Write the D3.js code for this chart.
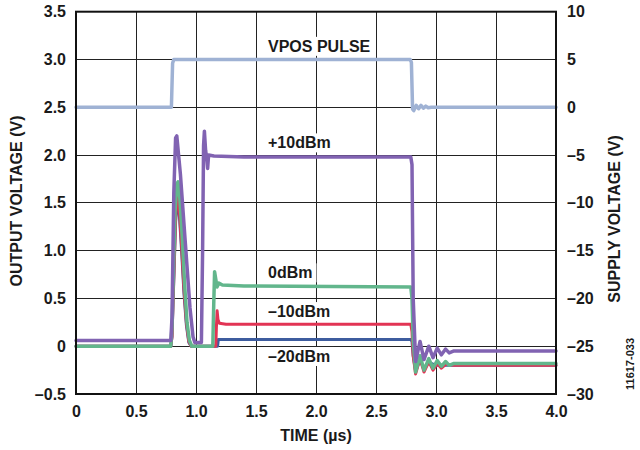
<!DOCTYPE html>
<html>
<head>
<meta charset="utf-8">
<script src="https://cdn.jsdelivr.net/npm/d3@7/dist/d3.min.js"></script>
<style>
  body { margin: 0; background: #fff; }
  text { font-family: Arial, "Liberation Sans", sans-serif; font-weight: bold; fill: #1a1a1a; }
  .grid line { stroke: #222; stroke-width: 1; shape-rendering: crispEdges; }
  .trace { fill: none; stroke-linejoin: round; stroke-linecap: round; }
</style>
</head>
<body>
<svg id="chart" width="640" height="450"></svg>
<script>
// tick values + labels
var xTicks = [0, 0.5, 1.0, 1.5, 2.0, 2.5, 3.0, 3.5, 4.0];
var xLabels = ['0', '0.5', '1.0', '1.5', '2.0', '2.5', '3.0', '3.5', '4.0'];
var leftTicks = [-0.5, 0, 0.5, 1.0, 1.5, 2.0, 2.5, 3.0, 3.5];
var leftLabels = ['\u20130.5', '0', '0.5', '1.0', '1.5', '2.0', '2.5', '3.0', '3.5'];
var rightTicks = [-30, -25, -20, -15, -10, -5, 0, 5, 10];
var rightLabels = ['\u201330', '\u201325', '\u201320', '\u201315', '\u201310', '\u20135', '0', '5', '10'];

// VPOS pulse (supply voltage, right axis)
var vposT = [0, 0.795, 0.805, 0.815, 2.785, 2.795, 2.805, 2.815, 2.835, 2.855, 2.875, 2.895, 2.915, 2.935, 2.96, 4.0];
var vposV = [0, 0, 4.6, 5, 5, 4.7, -0.2, -0.35, 0.2, -0.15, 0.2, -0.1, 0.12, -0.05, 0, 0];

// +10dBm (output voltage, left axis)
var p10T = [0, 0.79, 0.80, 0.815, 0.83, 0.84, 0.87, 0.91, 0.95, 0.975, 0.99, 1.045, 1.055, 1.063, 1.07, 1.08, 1.09, 1.097, 1.105, 1.15, 1.4,
            2.79, 2.80, 2.81, 2.83, 2.867, 2.90, 2.94, 2.975, 3.01, 3.045, 3.08, 3.11, 3.15, 4.0];
var p10V = [0.06, 0.06, 0.3, 1.6, 2.18, 2.2, 1.8, 1.1, 0.4, 0.1, 0.04, 0.04, 1.0, 2.1, 2.25, 2.05, 1.96, 1.86, 2.0, 1.99, 1.98,
            1.98, 1.9, 0.5, -0.16, 0.05, -0.14, 0.0, -0.12, -0.02, -0.09, -0.03, -0.07, -0.05, -0.05];

// 0dBm
var p0T = [0, 0.79, 0.80, 0.825, 0.84, 0.85, 0.865, 0.885, 0.905, 0.925, 0.945, 0.965, 1.14, 1.148, 1.155, 1.165, 1.175, 1.19, 1.22, 1.4,
           2.79, 2.80, 2.81, 2.83, 2.867, 2.90, 2.94, 2.975, 3.01, 3.045, 3.08, 3.11, 3.15, 4.0];
var p0V = [0.0, 0.0, 0.2, 1.4, 1.7, 1.72, 1.55, 1.15, 0.65, 0.25, 0.06, 0.0, 0.0, 0.45, 0.78, 0.7, 0.62, 0.66, 0.64, 0.63,
           0.62, 0.5, 0.05, -0.27, -0.1, -0.25, -0.13, -0.23, -0.15, -0.21, -0.16, -0.2, -0.18, -0.18];

// -10dBm
var m10T = [0, 0.79, 0.80, 0.83, 0.845, 0.86, 0.88, 0.90, 0.92, 0.94, 0.96, 1.165, 1.17, 1.176, 1.183, 1.195, 1.25,
            2.79, 2.80, 2.81, 2.83, 2.867, 2.90, 2.94, 2.975, 3.01, 3.045, 3.08, 3.15, 4.0];
var m10V = [0.0, 0.0, 0.1, 1.35, 1.58, 1.45, 1.05, 0.6, 0.25, 0.05, 0.0, 0.0, 0.2, 0.37, 0.28, 0.24, 0.23,
            0.23, 0.15, -0.1, -0.29, -0.13, -0.27, -0.16, -0.25, -0.18, -0.23, -0.19, -0.2, -0.2];

// -20dBm
var m20T = [0, 0.79, 0.80, 0.83, 0.845, 0.86, 0.88, 0.90, 0.92, 0.94, 0.96, 1.18, 1.186, 1.2, 2.79, 2.80, 2.81, 2.83, 2.867, 2.90, 2.94, 3.0, 4.0];
var m20V = [0.0, 0.0, 0.1, 1.3, 1.52, 1.4, 1.0, 0.55, 0.22, 0.04, 0.0, 0.0, 0.07, 0.07, 0.07, 0.05, -0.1, -0.26, -0.14, -0.24, -0.17, -0.2, -0.2];

// curve annotations (time, output-voltage baseline)
var labels = [
  { text: 'VPOS PULSE', t: 1.6, v: 3.08 },
  { text: '+10dBm', t: 1.6, v: 2.07 },
  { text: '0dBm', t: 1.6, v: 0.71 },
  { text: '\u201310dBm', t: 1.6, v: 0.305 },
  { text: '\u201320dBm', t: 1.6, v: -0.165 }
];

var svg = d3.select('#chart');
var mLeft = 76, mRight = 556, mTop = 11.7, mBottom = 394;

var x = d3.scaleLinear().domain([0, 4]).range([mLeft, mRight]);
var yL = d3.scaleLinear().domain([-0.5, 3.5]).range([mBottom, mTop]);
var yR = d3.scaleLinear().domain([-30, 10]).range([mBottom, mTop]);

// grid
var grid = svg.append('g').attr('class', 'grid');
grid.selectAll('line.v')
  .data(xTicks.slice(1, -1))
  .enter().append('line')
  .attr('x1', d => x(d)).attr('x2', d => x(d))
  .attr('y1', mTop).attr('y2', mBottom);
grid.selectAll('line.h')
  .data(leftTicks.slice(1, -1))
  .enter().append('line')
  .attr('x1', mLeft).attr('x2', mRight)
  .attr('y1', d => yL(d)).attr('y2', d => yL(d));

// axes
var xAxis = d3.axisBottom(x).tickValues(xTicks).tickSize(0).tickPadding(12)
  .tickFormat((d, i) => xLabels[i]);
var lAxis = d3.axisLeft(yL).tickValues(leftTicks).tickSize(0).tickPadding(10)
  .tickFormat((d, i) => leftLabels[i]);
var rAxis = d3.axisRight(yR).tickValues(rightTicks).tickSize(0).tickPadding(11)
  .tickFormat((d, i) => rightLabels[i]);

svg.append('g').attr('transform', 'translate(0,' + mBottom + ')').call(xAxis);
svg.append('g').attr('transform', 'translate(' + mLeft + ',0)').call(lAxis);
svg.append('g').attr('transform', 'translate(' + mRight + ',0)').call(rAxis);
svg.selectAll('.domain').remove();
svg.selectAll('.tick text')
  .attr('font-size', 16)
  .attr('font-family', 'Arial, "Liberation Sans", sans-serif')
  .attr('font-weight', 'bold')
  .attr('fill', '#1a1a1a');

// traces
function trace(ts, vs, yScale, color, w) {
  var pts = ts.map((t, i) => [x(t), yScale(vs[i])]);
  svg.append('path')
    .attr('class', 'trace')
    .attr('d', d3.line()(pts))
    .attr('stroke', color)
    .attr('stroke-width', w);
}
trace(vposT, vposV, yR, '#9fb2d4', 3.5);
trace(m20T, m20V, yL, '#3d5c9e', 3);
trace(m10T, m10V, yL, '#e23454', 3);
trace(p0T, p0V, yL, '#62b68c', 3.5);
trace(p10T, p10V, yL, '#8163b2', 3.5);

// frame
svg.append('rect')
  .attr('x', mLeft).attr('y', mTop)
  .attr('width', mRight - mLeft).attr('height', mBottom - mTop)
  .attr('fill', 'none').attr('stroke', '#111').attr('stroke-width', 2);

// curve labels w/ white background
labels.forEach(function (d) {
  var g = svg.append('g');
  var bg = g.append('rect').attr('fill', '#fff');
  var t = g.append('text')
    .attr('x', x(d.t)).attr('y', yL(d.v))
    .attr('font-size', 16)
    .text(d.text);
  var bb = t.node().getBBox();
  bg.attr('x', bb.x - 4).attr('y', bb.y - 1)
    .attr('width', bb.width + 8).attr('height', bb.height + 2);
});

// axis titles
svg.append('text')
  .attr('x', (mLeft + mRight) / 2).attr('y', 441)
  .attr('text-anchor', 'middle').attr('font-size', 16)
  .text('TIME (\u00b5s)');
svg.append('text')
  .attr('transform', 'translate(22,201) rotate(-90)')
  .attr('text-anchor', 'middle').attr('font-size', 16)
  .text('OUTPUT VOLTAGE (V)');
svg.append('text')
  .attr('transform', 'translate(620,219) rotate(-90)')
  .attr('text-anchor', 'middle').attr('font-size', 16)
  .text('SUPPLY VOLTAGE (V)');
svg.append('text')
  .attr('transform', 'translate(634,364) rotate(-90)')
  .attr('text-anchor', 'middle').attr('font-size', 11)
  .attr('font-weight', 'normal')
  .text('11617-033');
</script>
</body>
</html>
